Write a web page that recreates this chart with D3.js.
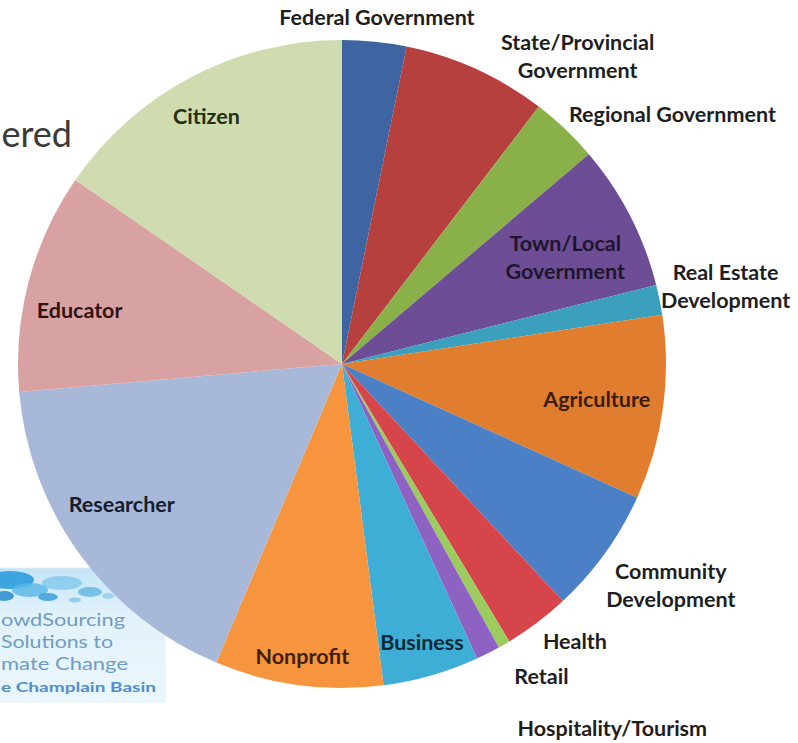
<!DOCTYPE html>
<html>
<head>
<meta charset="utf-8">
<script src="https://cdn.jsdelivr.net/npm/d3@7"></script>
<style>
  body { margin: 0; background: #fff; overflow: hidden; }
  svg { display: block; }
  text { font-family: Lato, "Open Sans", sans-serif; }
</style>
</head>
<body>
<svg width="798" height="743"></svg>
<script>
// stakeholder groups, clockwise from 12 o'clock
const categories = [
  'Federal Government', 'State/Provincial Government', 'Regional Government',
  'Town/Local Government', 'Real Estate Development', 'Agriculture',
  'Community Development', 'Health', 'Retail', 'Hospitality/Tourism',
  'Business', 'Nonprofit', 'Researcher', 'Educator', 'Citizen'
];
// share of respondents, %
const shares = [3.2, 7.2, 3.4, 7.3, 1.5, 9.2, 6.3, 3.3, 0.6, 1.2, 4.8, 8.4, 17.3, 11.0, 15.4];
const palette = [
  '#3e65a2', '#b5403e', '#8ab04a', '#6c4d96', '#3aa0be', '#e07d2e',
  '#4b7fc6', '#d6454a', '#9ccb5e', '#8e62c2', '#3eaed6', '#f7953f',
  '#a8b8d8', '#d9a2a2', '#cedcb0'
];
const insideLabels = ['Town/Local Government', 'Agriculture', 'Business', 'Nonprofit',
  'Researcher', 'Educator', 'Citizen'];
const wrapLabels = ['State/Provincial Government', 'Town/Local Government',
  'Real Estate Development', 'Community Development'];
// label layout tweaks: [extra angle in degrees, extra radius in px]
const labelNudge = {
  'State/Provincial Government': [13, -7],
  'Regional Government': [9.4, -3],
  'Real Estate Development': [0, -5],
  'Community Development': [-1.7, 1],
  'Health': [-3, 5],
  'Retail': [-2.5, 19],
  'Hospitality/Tourism': [-9.8, 60],
  'Town/Local Government': [1.8, 0],
  'Researcher': [3.5, 0],
  'Citizen': [-1, -4],
  'Educator': [-3.3, 0]
};

const width = 798, height = 743;
const cx = 342, cy = 364, radius = 324;
const fontSize = 21.5, lineHeight = 28;

const svg = d3.select('svg')
  .attr('width', width)
  .attr('height', height);

const defs = svg.append('defs');
const bg = defs.append('linearGradient')
  .attr('id', 'logoBg')
  .attr('x1', 0).attr('y1', 0).attr('x2', 0).attr('y2', 1);
bg.append('stop').attr('offset', 0).attr('stop-color', '#c3e5f7');
bg.append('stop').attr('offset', 0.35).attr('stop-color', '#e2f2fb');
bg.append('stop').attr('offset', 1).attr('stop-color', '#eaf6fc');

// cut-off slide title
svg.append('text')
  .attr('x', 72)
  .attr('y', 147)
  .attr('text-anchor', 'end')
  .attr('font-size', 36)
  .attr('fill', '#3a3a3a')
  .text('ered');

// logo in the lower left corner, only its visible part
{
const logo = svg.append('g');
logo.append('rect')
  .attr('x', -2).attr('y', 568)
  .attr('width', 167).attr('height', 134)
  .attr('fill', 'url(#logoBg)')
  .attr('stroke', '#e3eff6');
const blobs = [
  [10, 580, 24, 9, '#2c9ddc', 0.9], [30, 590, 18, 7, '#58b6e6', 0.8],
  [62, 583, 20, 7, '#7cc6ec', 0.75], [90, 592, 12, 5, '#3aa5de', 0.6],
  [48, 597, 10, 4, '#1f8fd2', 0.7], [108, 596, 6, 3, '#7cc2e8', 0.6],
  [4, 596, 10, 5, '#1b86c9', 0.8], [75, 600, 6, 2.5, '#4aaede', 0.5]
];
logo.selectAll('ellipse')
  .data(blobs)
  .enter().append('ellipse')
  .attr('cx', d => d[0]).attr('cy', d => d[1])
  .attr('rx', d => d[2]).attr('ry', d => d[3])
  .attr('fill', d => d[4])
  .attr('opacity', d => d[5]);
const logoLines = [
  ['owdSourcing', 124, 626, 18, '#6f9cc2', 400],
  ['Solutions to', 112, 648, 18, '#6f9cc2', 400],
  ['mate Change', 127, 670, 18, '#6f9cc2', 400],
  ['e Champlain Basin', 155, 692, 12.5, '#4f8ecb', 700]
];
logo.selectAll('text')
  .data(logoLines)
  .enter().append('text')
  .attr('x', 1).attr('y', d => d[2])
  .attr('textLength', d => d[1])
  .attr('lengthAdjust', 'spacingAndGlyphs')
  .attr('font-family', '"DejaVu Sans", sans-serif')
  .attr('font-size', d => d[3])
  .attr('font-weight', d => d[5])
  .attr('fill', d => d[4])
  .text(d => d[0]);
}

const rows = categories.map((name, i) => ({ name, value: shares[i], color: palette[i] }));

const pie = d3.pie()
  .sort(null)
  .value(d => d.value);
const arc = d3.arc()
  .innerRadius(0)
  .outerRadius(radius);

const arcs = pie(rows);
const chart = svg.append('g')
  .attr('transform', `translate(${cx},${cy})`);

chart.selectAll('.slice')
  .data(arcs)
  .enter().append('path')
  .attr('class', 'slice')
  .attr('d', arc)
  .attr('fill', d => d.data.color);

const labels = chart.selectAll('.label')
  .data(arcs)
  .enter().append('g')
  .attr('class', 'label');

labels.each(function (d) {
  const g = d3.select(this);
  const name = d.data.name;
  const inside = insideLabels.includes(name);
  let lines = [name];
  if (wrapLabels.includes(name)) {
    const cut = name.lastIndexOf(' ');
    lines = [name.slice(0, cut), name.slice(cut + 1)];
  }
  let fill = '#1e1e1e';
  if (inside) {
    const c = d3.hsl(d.data.color);
    c.l = 0.13;
    fill = c.formatHex();
  }
  const text = g.append('text')
    .attr('text-anchor', 'middle')
    .attr('font-size', fontSize)
    .attr('font-weight', 700)
    .attr('fill', fill);
  text.selectAll('tspan')
    .data(lines)
    .enter().append('tspan')
    .attr('x', 0)
    .attr('y', (l, i) => (i - (lines.length - 1) / 2) * lineHeight + fontSize * 0.35)
    .text(l => l);

  const box = text.node().getBBox();
  const hw = box.width / 2;
  const hh = lines.length * lineHeight / 2 - 3;
  const nudge = labelNudge[name] || [0, 0];
  const a = (d.startAngle + d.endAngle) / 2 + nudge[0] * Math.PI / 180;
  const sx = Math.sin(a), sy = -Math.cos(a);
  const support = hw * Math.abs(sx) + hh * Math.abs(sy);
  const rho = (inside ? radius - 12 - support : radius + 4 + support) + nudge[1];
  g.attr('transform', `translate(${rho * sx},${rho * sy})`);
});
</script>
</body>
</html>
